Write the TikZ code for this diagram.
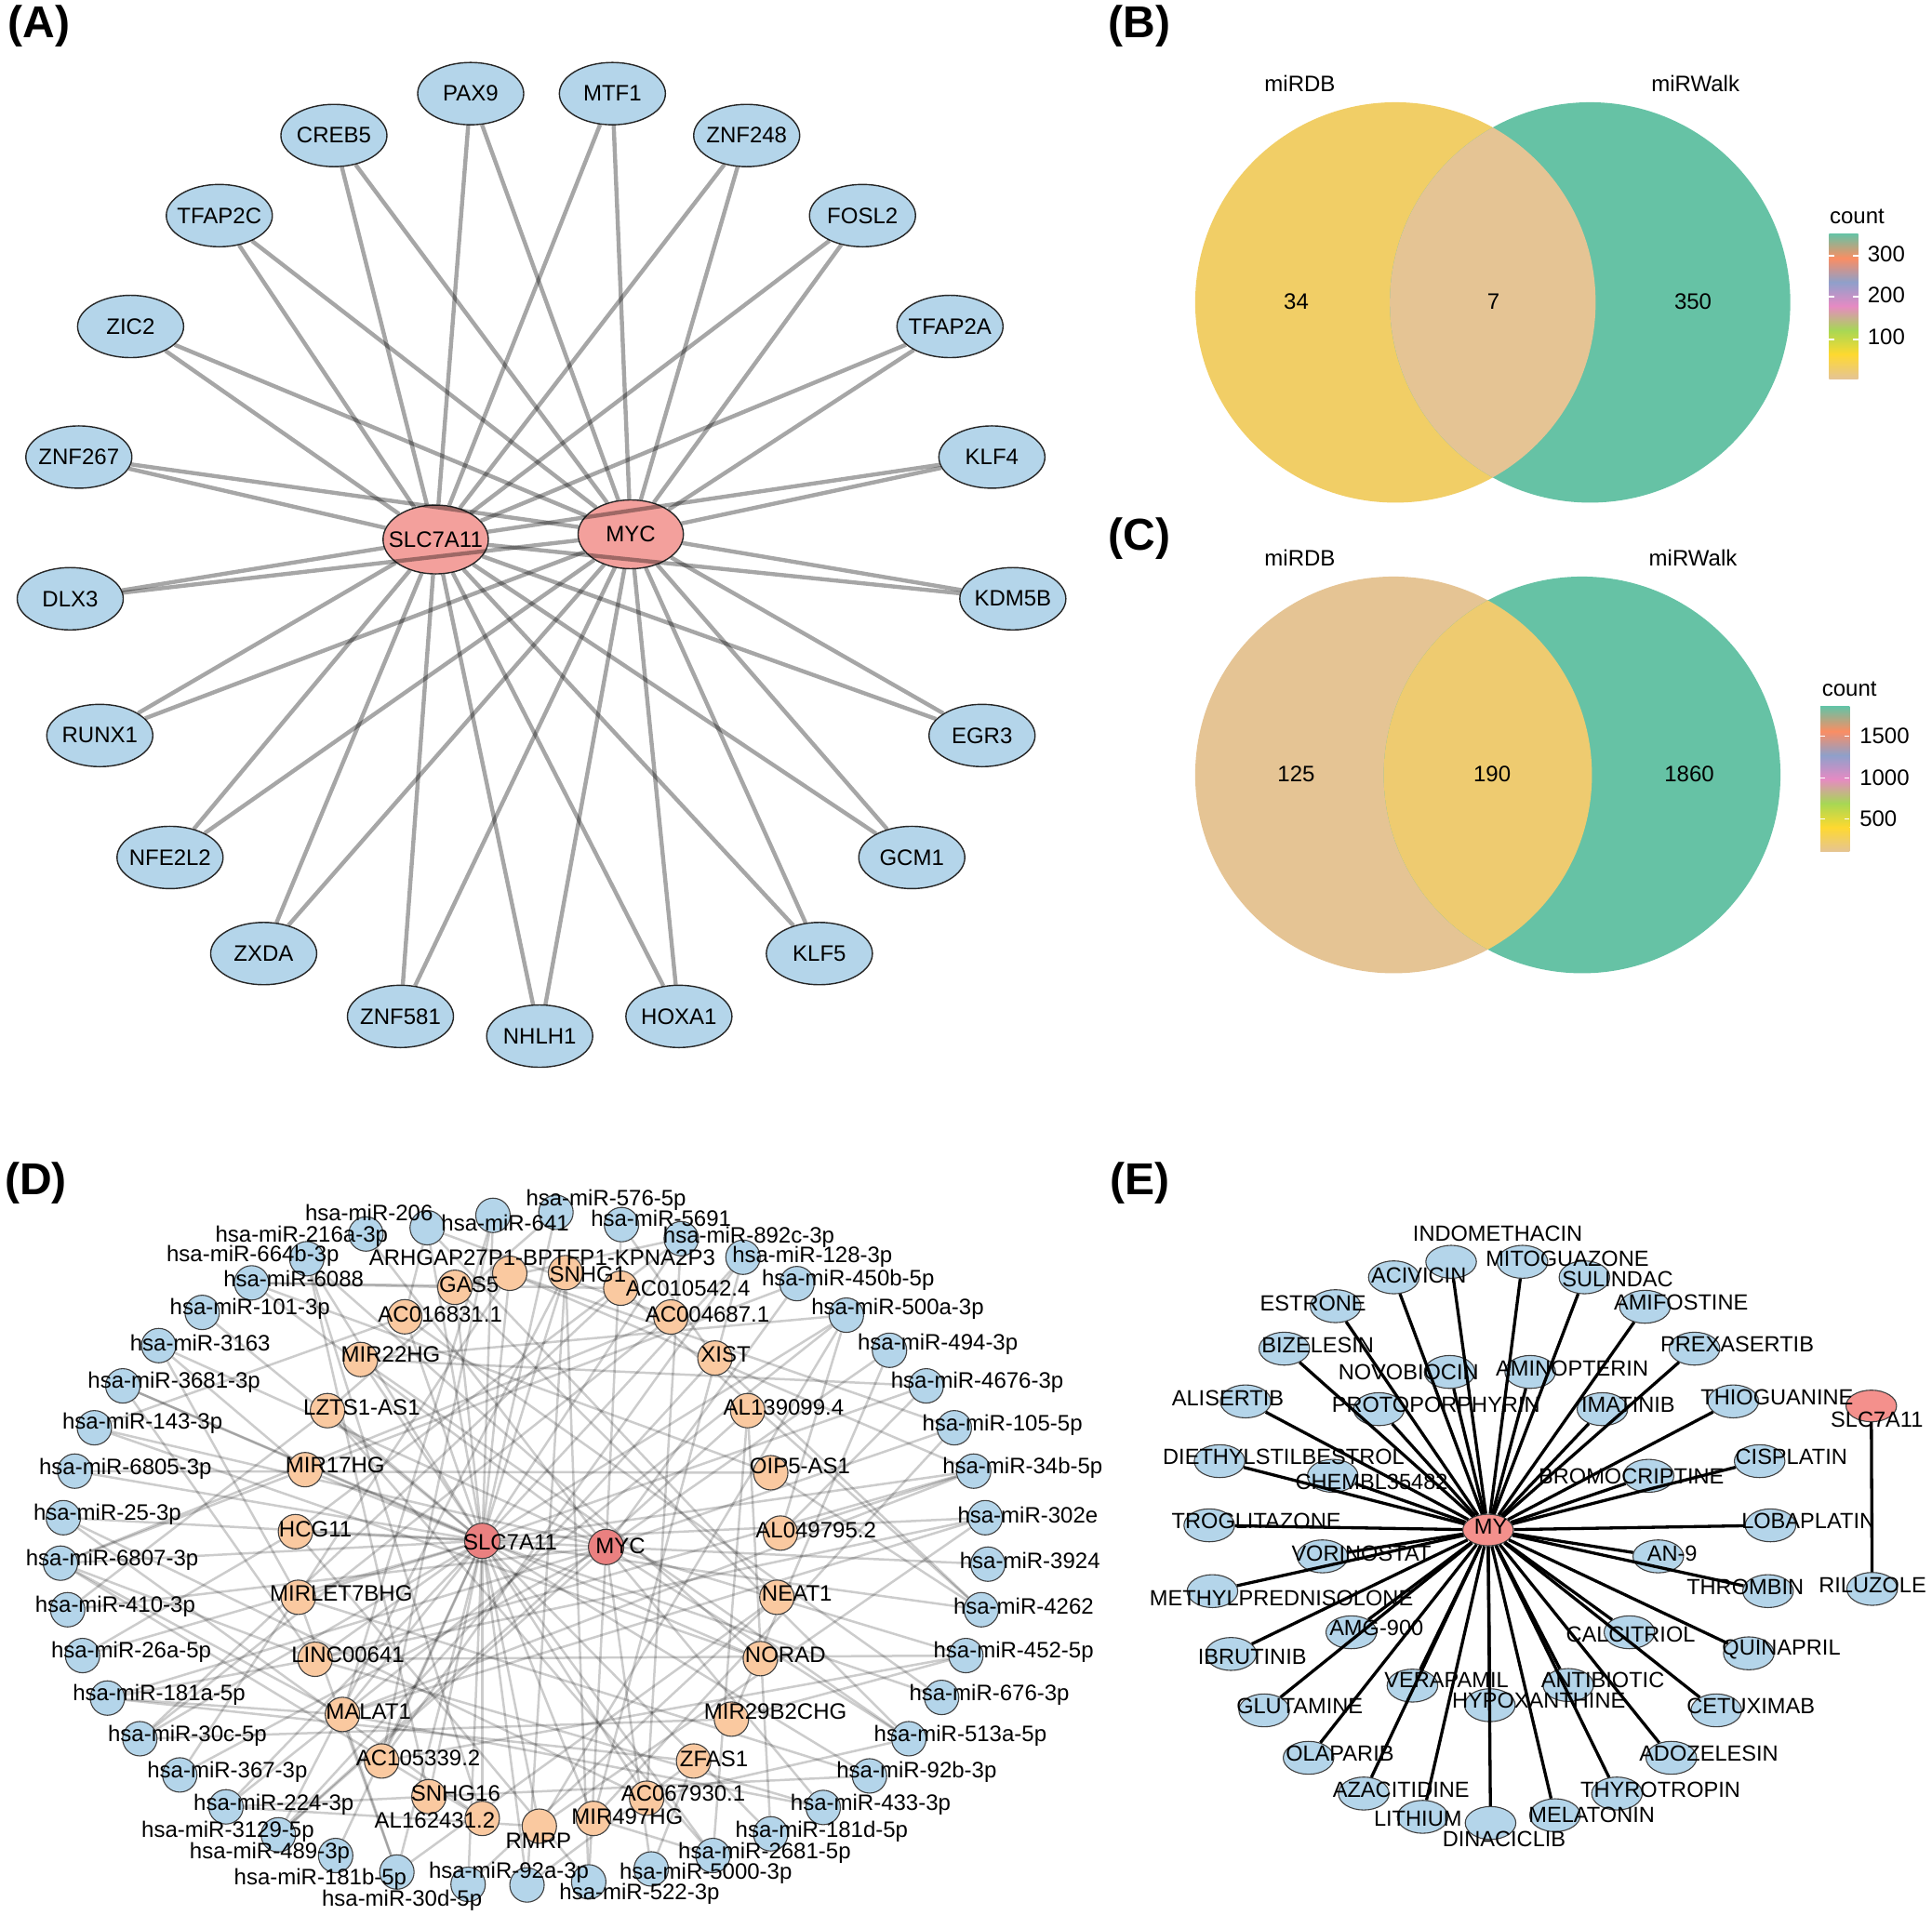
\documentclass[tikz,border=0pt]{standalone}
\usepackage{fontspec}
\setmainfont{Liberation Sans}
\usetikzlibrary{shapes.geometric}
\pgfdeclarelayer{bg}
\pgfsetlayers{bg,main}
\definecolor{nblue}{RGB}{180,213,234}
\definecolor{ared}{RGB}{243,160,156}
\definecolor{dred}{RGB}{234,128,128}
\definecolor{dorange}{RGB}{250,201,160}
\definecolor{vtan}{HTML}{E5C494}
\definecolor{vyel}{HTML}{FFD92F}
\definecolor{vlime}{HTML}{A6D854}
\definecolor{vpink}{HTML}{E78AC3}
\definecolor{vblue}{HTML}{8DA0CB}
\definecolor{vorange}{HTML}{FC8D62}
\definecolor{vgreen}{HTML}{66C2A5}
\definecolor{vgold}{RGB}{241,206,102}
\definecolor{vgoldc}{RGB}{238,203,112}
\newcommand\nf{\fontsize{12}{14}\selectfont}
\newcommand\ef{\fontsize{11.8}{14}\selectfont}
\newcommand\pf{\fontsize{24}{28}\selectfont\bfseries}
\tikzset{
  aout/.style={ellipse, draw=black!85, line width=0.7pt, fill=nblue, minimum width=57pt, minimum height=33.5pt, inner sep=0pt},
  acen/.style={ellipse, draw=black!85, line width=0.7pt, fill=ared, minimum width=56.6pt, minimum height=37pt, inner sep=0pt},
  aedge/.style={draw=black, draw opacity=0.35, line width=2.2pt},
  dmir/.style={circle, draw=black!75, line width=0.55pt, fill=nblue, minimum size=18.5pt, inner sep=0pt},
  dlnc/.style={circle, draw=black!75, line width=0.55pt, fill=dorange, minimum size=18.5pt, inner sep=0pt},
  dhub/.style={circle, draw=black!75, line width=0.55pt, fill=dred, minimum size=19pt, inner sep=0pt},
  dedge/.style={draw=black, draw opacity=0.2, line width=1.25pt},
  lab/.style={font=\nf, inner sep=0pt},
  elab/.style={font=\ef, inner sep=0pt},
  plab/.style={font=\pf, inner sep=0pt},
  edrug/.style={ellipse, draw=black!75, line width=0.55pt, fill=nblue, minimum width=27.2pt, minimum height=17.7pt, inner sep=0pt},
  ehub/.style={ellipse, draw=black!75, line width=0.55pt, fill=ared!90!red, minimum width=27.2pt, minimum height=17pt, inner sep=0pt},
  eedge/.style={draw=black, line width=1.65pt},
}
\def\alist{pax/382/76/PAX9,mtf/497/76/MTF1,creb/271/110/CREB5,zb/606/110/ZNF248,tfc/178/175/TFAP2C,fos/700/175/FOSL2,zic/106/265/ZIC2,tfa/771/265/TFAP2A,zc/64/371/ZNF267,klfd/805/371/KLF4,dlx/57/486/DLX3,kdm/822/486/KDM5B,run/81/597/RUNX1,egr/797/597/EGR3,nfe/138/696/NFE2L2,gcm/740/696/GCM1,zxd/214/774/ZXDA,klfe/665/774/KLF5,zf/325/825/ZNF581,hox/551/825/HOXA1,nhl/438/841/NHLH1}
\def\mirlist{1/346.7/996.5/299.5/984/hsa-miR-206,%
2/400.1/986.5/410/992.8/hsa-miR-641,%
3/451.2/984/491.9/974.4/hsa-miR-576-5p,%
4/504.4/994/536.5/989/hsa-miR-5691,%
5/552.9/1005.4/607.7/1004.6/hsa-miR-892c-3p,%
6/603/1020.5/659.3/1020.5/hsa-miR-128-3p,%
7/646.8/1041.9/688.3/1038.8/hsa-miR-450b-5p,%
8/686.9/1067.5/728.5/1062.7/hsa-miR-500a-3p,%
9/721.9/1096/761.1/1091.4/hsa-miR-494-3p,%
10/751.7/1124.9/793.1/1122.4/hsa-miR-4676-3p,%
11/774.5/1158.9/813.5/1156.4/hsa-miR-105-5p,%
12/790.2/1194.1/829.9/1191.6/hsa-miR-34b-5p,%
13/799.6/1231.9/834.1/1229.4/hsa-miR-302e,%
14/801.8/1269.6/835.9/1267/hsa-miR-3924,%
15/796.4/1306.6/830.7/1304/hsa-miR-4262,%
16/783.9/1343.8/822.6/1341.3/hsa-miR-452-5p,%
17/764.2/1377.8/802.9/1375.8/hsa-miR-676-3p,%
18/737.6/1411.3/779.4/1408.7/hsa-miR-513a-5p,%
19/705.7/1441.5/743.9/1438.2/hsa-miR-92b-3p,%
20/668.1/1467.1/706.6/1464.6/hsa-miR-433-3p,%
21/625.5/1488.5/666.9/1486.8/hsa-miR-181d-5p,%
22/578.6/1506.1/620.5/1504.4/hsa-miR-2681-5p,%
23/528.5/1517/572.8/1520.5/hsa-miR-5000-3p,%
24/477.8/1527.5/519/1537.1/hsa-miR-522-3p,%
25/427.7/1530/413/1520/hsa-miR-92a-3p,%
26/379.9/1529.5/326.2/1542.6/hsa-miR-30d-5p,%
27/322.1/1519.5/260/1525/hsa-miR-181b-5p,%
28/272.4/1506.1/218.9/1504.4/hsa-miR-489-3p,%
29/225.9/1489.3/184.9/1486.8/hsa-miR-3129-5p,%
30/183.4/1466.6/222.1/1464.6/hsa-miR-224-3p,%
31/145.9/1440.7/184.5/1438.2/hsa-miR-367-3p,%
32/113.5/1411.3/152.1/1408.7/hsa-miR-30c-5p,%
33/87.2/1378.3/129.1/1375.8/hsa-miR-181a-5p,%
34/67/1343.8/106.5/1341.3/hsa-miR-26a-5p,%
35/54.9/1306.6/93.5/1304/hsa-miR-410-3p,%
36/49.1/1268.8/91/1266.3/hsa-miR-6807-3p,%
37/51.4/1231.9/87.1/1229.4/hsa-miR-25-3p,%
38/60.7/1194.1/101.8/1192.4/hsa-miR-6805-3p,%
39/76.6/1158.9/115.6/1155.6/hsa-miR-143-3p,%
40/99.7/1124.9/141.3/1122.4/hsa-miR-3681-3p,%
41/128.8/1092.2/162.5/1090.4/hsa-miR-3163,%
42/164.1/1065.3/202.9/1062.7/hsa-miR-101-3p,%
43/204.2/1041.3/238.3/1038.1/hsa-miR-6088,%
44/249/1021.7/205.2/1019.2/hsa-miR-664b-3p,%
45/297/1001.6/244.8/1003.6/hsa-miR-216a-3p}
\def\lnclist{1/413.7/1033.5/440/1020.5/ARHGAP27P1-BPTFP1-KPNA2P3,%
2/369.2/1044.9/380.6/1043.1/GAS5,%
3/459/1033/477/1034.3/SNHG1,%
4/503.8/1045.6/558.4/1045.6/AC010542.4,%
5/328.5/1068.8/357.2/1067/AC016831.1,%
6/544.5/1069/574.1/1067/AC004687.1,%
7/292.6/1103.5/317.1/1099.7/MIR22HG,%
8/580.2/1102.3/588.9/1099.7/XIST,%
9/265.8/1145/293.6/1142/LZTS1-AS1,%
10/606.8/1145/636/1142.5/AL139099.4,%
11/247.6/1192.9/272/1189/MIR17HG,%
12/625.5/1195.4/649.2/1189.8/OIP5-AS1,%
13/239.8/1243.2/256/1241.2/HCG11,%
14/633.4/1244.4/662.2/1241.9/AL049795.2,%
15/242.1/1296.5/276.9/1293.5/MIRLET7BHG,%
16/630.5/1296.5/646.8/1293.5/NEAT1,%
17/255.7/1346.8/282.4/1343.3/LINC00641,%
18/617.1/1346.3/637.4/1343.3/NORAD,%
19/277.9/1391.6/299/1389.1/MALAT1,%
20/593.6/1395.4/629.3/1389.1/MIR29B2CHG,%
21/309.7/1429.4/339.4/1426.9/AC105339.2,%
22/562.9/1429.4/579.5/1427.4/ZFAS1,%
23/348.1/1458.3/369.8/1455.8/SNHG16,%
24/524.8/1459.6/554.5/1455.8/AC067930.1,%
25/391.4/1476/352.9/1477.2/AL162431.2,%
26/481.6/1476/509.1/1474.7/MIR497HG,%
27/437.7/1482.3/437/1494.3/RMRP}
\def\druglist{indo/1177.7/1024.2/1215.5/1001.6/INDOMETHACIN,%
mito/1235.6/1024.2/1272/1021.7/MITOGUAZONE,%
aciv/1131.2/1036.8/1151.4/1035/ACIVICIN,%
suli/1285.9/1036.8/1312.8/1038.1/SULINDAC,%
estr/1083.9/1060.2/1065.7/1057.7/ESTRONE,%
amif/1335/1060.7/1364.3/1057/AMIFOSTINE,%
bize/1042.3/1094.7/1069.5/1091.7/BIZELESIN,%
prex/1375.2/1094.7/1409.9/1091.4/PREXASERTIB,%
novo/1176.5/1113.6/1143.1/1113.6/NOVOBIOCIN,%
amin/1241.9/1113.6/1275.9/1111.1/AMINOPTERIN,%
alis/1010.9/1137.5/996.5/1135/ALISERTIB,%
prot/1119.1/1143.8/1165.4/1140/PROTOPORPHYRIN,%
imat/1300.5/1143.8/1321.4/1140.5/IMATINIB,%
thio/1406.7/1137.5/1442.2/1134.2/THIOGUANINE,%
diet/989.8/1186/1041.8/1182.8/DIETHYLSTILBESTROL,%
chem/1081.6/1197.9/1113.2/1202.9/CHEMBL35482,%
brom/1338/1197.9/1324/1198.6/BROMOCRIPTINE,%
cisp/1428.1/1186/1453.8/1182.8/CISPLATIN,%
trog/981.4/1238.1/1019.6/1234.4/TROGLITAZONE,%
loba/1436.9/1238.1/1467.7/1234.9/LOBAPLATIN,%
vori/1073.3/1263.3/1104.8/1260.7/VORINOSTAT,%
anix/1345.8/1263.3/1357.1/1260.7/AN-9,%
meth/984/1291.5/1040/1297.2/METHYLPREDNISOLONE,%
thro/1434.9/1291.5/1416.4/1287.9/THROMBIN,%
amg/1096.7/1324.9/1117.1/1321.1/AMG-900,%
calc/1322.4/1324.9/1323.4/1326.7/CALCITRIOL,%
ibru/999.1/1342.5/1016.3/1345.1/IBRUTINIB,%
quin/1419.3/1342/1445.7/1338.8/QUINAPRIL,%
vera/1146.3/1368.2/1174/1363.9/VERAPAMIL,%
anti/1272.8/1367.7/1300.8/1363.9/ANTIBIOTIC,%
hypo/1209.2/1384.1/1248.8/1380.3/HYPOXANTHINE,%
glut/1026/1388.3/1054.8/1384.8/GLUTAMINE,%
cetu/1392.9/1388.3/1420.9/1384.8/CETUXIMAB,%
olap/1062/1426.8/1087.4/1423.6/OLAPARIB,%
adoz/1356.4/1426.8/1386.8/1423.6/ADOZELESIN,%
azac/1106.8/1455.8/1137.1/1452.8/AZACITIDINE,%
thyr/1312.3/1455.8/1347.6/1452.8/THYROTROPIN,%
lith/1154.6/1474.7/1150.7/1475.9/LITHIUM,%
mela/1262/1473.4/1291.8/1472.9/MELATONIN,%
dina/1209.7/1479.7/1220.7/1492.8/DINACICLIB}
\begin{document}
\begin{tikzpicture}[x=0.6623pt,y=-0.6623pt]
\useasboundingbox (0,0) rectangle (1568,1554.4);
\begin{pgfonlayer}{bg}
\fill[white] (0,0) rectangle (1568,1554.4);
\end{pgfonlayer}
% ---------------- panel labels
\node[plab] (pA) at (31.5,21) {(A)};
\node[plab] (pB) at (925,21) {(B)};
\node[plab] (pC) at (925,437) {(C)};
\node[plab] (pD) at (29,960) {(D)};
\node[plab] (pE) at (925,960) {(E)};
% ---------------- panel A
\node[acen] (aslc) at (353.6,437.9) {};
\node[acen] (amyc) at (511.9,433.7) {};
\foreach \n/\cx/\cy/\txt in \alist {\node[aout] (a\n) at (\cx,\cy) {};}
\foreach \n/\cx/\cy/\txt in \alist {
  \draw[aedge] (a\n) -- (aslc);
  \draw[aedge] (a\n) -- (amyc);
}
\foreach \n/\cx/\cy/\txt in \alist {\node[lab] (at\n) at (a\n) {\txt};}
\node[lab] (atslc) at (aslc) {SLC7A11};
\node[lab] (atmyc) at (amyc) {MYC};
% ---------------- panel B
\fill[vgold] (1132.5,245.5) circle[radius=162.5];
\fill[vgreen] (1290.5,245.5) circle[radius=162.5];
\begin{scope}
\clip (1132.5,245.5) circle[radius=162.5];
\fill[vtan] (1290.5,245.5) circle[radius=162.5];
\end{scope}
\node[lab] (bdb) at (1055,68) {miRDB};
\node[lab] (bwk) at (1376,68) {miRWalk};
\node[lab] (bn1) at (1052,245) {34};
\node[lab] (bn2) at (1212,245) {7};
\node[lab] (bn3) at (1374,245) {350};
\foreach \c/\d [count=\s from 0] in {vtan/vyel,vyel/vlime,vlime/vpink,vpink/vblue,vblue/vorange,vorange/vgreen}
  {\shade[bottom color=\c, top color=\d] (1484.5,{307-19.5*\s+0.3}) rectangle (1508,{307-19.5*(\s+1)-0.3});}
\foreach \ty in {207.6,240.8,275.5}{
  \draw[white, line width=0.6pt] (1484.5,\ty) -- (1488.5,\ty);
  \draw[white, line width=0.6pt] (1504,\ty) -- (1508,\ty);}
\node[lab, anchor=west] (bcnt) at (1484.7,176) {count};
\node[lab, anchor=west] (bt3) at (1515.5,206) {300};
\node[lab, anchor=west] (bt2) at (1515.5,239.5) {200};
\node[lab, anchor=west] (bt1) at (1515.5,273.8) {100};
% ---------------- panel C
\fill[vtan] (1131,629) circle[radius=161];
\fill[vgreen] (1284,629) circle[radius=161];
\begin{scope}
\clip (1131,629) circle[radius=161];
\fill[vgoldc] (1284,629) circle[radius=161];
\end{scope}
\node[lab] (cdb) at (1055,453) {miRDB};
\node[lab] (cwk) at (1374,453) {miRWalk};
\node[lab] (cn1) at (1052,628) {125};
\node[lab] (cn2) at (1211,628) {190};
\node[lab] (cn3) at (1371,628) {1860};
\foreach \c/\d [count=\s from 0] in {vtan/vyel,vyel/vlime,vlime/vpink,vpink/vblue,vblue/vorange,vorange/vgreen}
  {\shade[bottom color=\c, top color=\d] (1477.5,{691-19.5*\s+0.3}) rectangle (1501,{691-19.5*(\s+1)-0.3});}
\foreach \ty in {597.7,631.6,665}{
  \draw[white, line width=0.6pt] (1477.5,\ty) -- (1481.5,\ty);
  \draw[white, line width=0.6pt] (1497,\ty) -- (1501,\ty);}
\node[lab, anchor=west] (ccnt) at (1478.5,559.2) {count};
\node[lab, anchor=west] (ct3) at (1509,597) {1500};
\node[lab, anchor=west] (ct2) at (1509,631) {1000};
\node[lab, anchor=west] (ct1) at (1509,664.8) {500};
% ---------------- panel D
\foreach \i/\cx/\cy/\lx/\ly/\txt in \mirlist {\node[dmir] (m\i) at (\cx,\cy) {};}
\foreach \i/\cx/\cy/\lx/\ly/\txt in \lnclist {\node[dlnc] (l\i) at (\cx,\cy) {};}
\node[dhub] (dslc) at (391.4,1250.7) {};
\node[dhub] (dmyc) at (491.9,1255.7) {};
\begin{pgfonlayer}{bg}
\foreach \j in {1,2,3,5,6,8,10,12,13,15,17,19,21,22,25,26,27,28,30,32,34,36,38,40,42,44}
  {\draw[dedge] (dslc) -- (m\j);}
\foreach \j in {1,2,3,5,7,9,11,13,15,17,19,21,23,24,25,26,27}
  {\draw[dedge] (dslc) -- (l\j);}
\foreach \j in {4,7,9,11,14,16,18,20,23,24,29,31,33,35,37,39,41,43,45}
  {\draw[dedge] (dmyc) -- (m\j);}
\foreach \k in {1,...,27}{
  \pgfmathtruncatemacro\edgA{mod(7*\k+3,45)+1}
  \pgfmathtruncatemacro\edgB{mod(19*\k+11,45)+1}
  \pgfmathtruncatemacro\edgC{mod(31*\k+25,45)+1}
  \draw[dedge] (l\k) -- (m\edgA);
  \draw[dedge] (l\k) -- (m\edgB);
  \draw[dedge] (l\k) -- (m\edgC);
}
\foreach \j in {33,20,8,27,36,12}{\draw[dedge] (l19) -- (m\j);}
\foreach \j in {36,12,40,16}{\draw[dedge] (l17) -- (m\j);}
\end{pgfonlayer}
\foreach \i/\cx/\cy/\lx/\ly/\txt in \mirlist {\node[lab] (mt\i) at (\lx,\ly) {\txt};}
\foreach \i/\cx/\cy/\lx/\ly/\txt in \lnclist {\node[lab] (lt\i) at (\lx,\ly) {\txt};}
\node[lab] (dtslc) at (414.1,1252) {SLC7A11};
\node[lab] (dtmyc) at (503.6,1254.5) {MYC};
% ---------------- panel E
\foreach \n/\cx/\cy/\lx/\ly/\txt in \druglist {\node[edrug] (e\n) at (\cx,\cy) {};}
\node[edrug] (eril) at (1519.4,1289.7) {};
\node[ehub] (emyc) at (1207.7,1241.9) {};
\node[ehub] (eslc) at (1518.7,1141.2) {};
\foreach \n/\cx/\cy/\lx/\ly/\txt in \druglist {\draw[eedge] (emyc) -- (e\n);}
\draw[eedge] (eslc) -- (eril);
\foreach \n/\cx/\cy/\lx/\ly/\txt in \druglist {\node[elab] (et\n) at (\lx,\ly) {\txt};}
\node[elab] (etril) at (1519.7,1286.4) {RILUZOLE};
\node[elab] (etslc) at (1523.3,1152.6) {SLC7A11};
\node[elab] (etmyc) at (1209.8,1239.4) {MY};
\end{tikzpicture}
\end{document}
